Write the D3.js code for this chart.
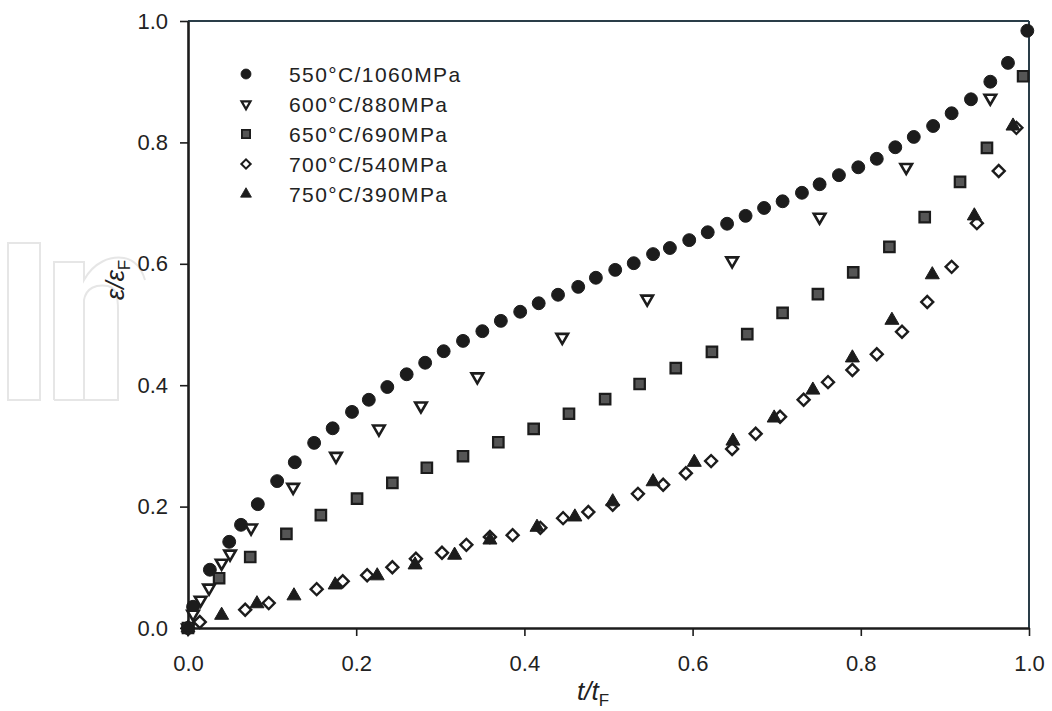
<!DOCTYPE html>
<html>
<head>
<meta charset="utf-8">
<script src="https://cdn.jsdelivr.net/npm/d3@7"></script>
<style>
  body { margin: 0; background: #ffffff; }
  svg text { font-family: "Liberation Sans", Arial, Helvetica, sans-serif; }
</style>
</head>
<body>
<svg id="chart" width="1052" height="711"></svg>
<script>
// Axis ticks (fraction of rupture time / fraction of rupture strain)
const tickValues = [0.0, 0.2, 0.4, 0.6, 0.8, 1.0];

// Test conditions (temperature / stress)
const conditions = ["550°C/1060MPa", "600°C/880MPa", "650°C/690MPa", "700°C/540MPa", "750°C/390MPa"];

// 550°C / 1060 MPa
const t550 = [0.000, 0.006, 0.026, 0.049, 0.063, 0.083, 0.106, 0.127, 0.150, 0.172, 0.195, 0.215, 0.237,
              0.260, 0.282, 0.304, 0.327, 0.350, 0.372, 0.395, 0.417, 0.440, 0.464, 0.485, 0.508, 0.530,
              0.553, 0.573, 0.596, 0.618, 0.641, 0.663, 0.685, 0.707, 0.730, 0.751, 0.774, 0.797, 0.819,
              0.841, 0.863, 0.886, 0.908, 0.931, 0.954, 0.975, 0.998];
const e550 = [0.000, 0.035, 0.096, 0.142, 0.170, 0.204, 0.242, 0.273, 0.305, 0.329, 0.356, 0.376, 0.397,
              0.418, 0.437, 0.456, 0.473, 0.489, 0.506, 0.521, 0.535, 0.549, 0.562, 0.577, 0.590, 0.601,
              0.616, 0.626, 0.639, 0.652, 0.666, 0.679, 0.692, 0.703, 0.717, 0.731, 0.746, 0.759, 0.773,
              0.792, 0.809, 0.827, 0.848, 0.871, 0.900, 0.931, 0.984];

// 600°C / 880 MPa
const t600 = [0.000, 0.006, 0.015, 0.025, 0.040, 0.050, 0.075, 0.125, 0.176, 0.227, 0.277, 0.344, 0.445,
              0.546, 0.647, 0.751, 0.854, 0.954];
const e600 = [0.000, 0.023, 0.046, 0.066, 0.107, 0.122, 0.165, 0.232, 0.283, 0.328, 0.366, 0.414, 0.479,
              0.542, 0.605, 0.677, 0.759, 0.873];

// 650°C / 690 MPa
const t650 = [0.000, 0.037, 0.074, 0.117, 0.158, 0.201, 0.243, 0.284, 0.327, 0.369, 0.411, 0.453, 0.496,
              0.537, 0.580, 0.623, 0.665, 0.707, 0.749, 0.791, 0.834, 0.876, 0.918, 0.950, 0.993];
const e650 = [0.000, 0.082, 0.117, 0.155, 0.186, 0.213, 0.239, 0.264, 0.283, 0.306, 0.328, 0.353, 0.377,
              0.402, 0.428, 0.455, 0.484, 0.519, 0.550, 0.586, 0.628, 0.677, 0.735, 0.791, 0.909];

// 700°C / 540 MPa
const t700 = [0.000, 0.014, 0.068, 0.096, 0.153, 0.184, 0.213, 0.243, 0.271, 0.302, 0.331, 0.359, 0.386,
              0.419, 0.446, 0.476, 0.505, 0.535, 0.565, 0.592, 0.622, 0.647, 0.675, 0.704, 0.732, 0.761,
              0.790, 0.819, 0.849, 0.879, 0.908, 0.938, 0.964, 0.985];
const e700 = [0.000, 0.010, 0.030, 0.041, 0.064, 0.077, 0.087, 0.100, 0.114, 0.124, 0.137, 0.150, 0.153,
              0.165, 0.181, 0.191, 0.203, 0.221, 0.236, 0.255, 0.275, 0.295, 0.320, 0.348, 0.376, 0.405,
              0.425, 0.451, 0.488, 0.537, 0.595, 0.667, 0.753, 0.824];

// 750°C / 390 MPa
const t750 = [0.000, 0.040, 0.082, 0.126, 0.175, 0.225, 0.270, 0.317, 0.359, 0.415, 0.460, 0.505, 0.553,
              0.602, 0.648, 0.697, 0.743, 0.790, 0.837, 0.885, 0.935, 0.981];
const e750 = [0.000, 0.021, 0.040, 0.053, 0.071, 0.086, 0.104, 0.120, 0.145, 0.166, 0.183, 0.208, 0.241,
              0.273, 0.308, 0.346, 0.392, 0.445, 0.507, 0.582, 0.679, 0.827];

const ink = "#1c1c1c";

// Marker styles per condition
const markerStyles = [
  { type: d3.symbolCircle,   size: 130, rotate: 0,   fill: ink,       stroke: ink, sw: 1 },
  { type: d3.symbolTriangle, size: 58,  rotate: 180, fill: "#ffffff", stroke: ink, sw: 2.6 },
  { type: d3.symbolSquare,   size: 110, rotate: 0,   fill: "#555555", stroke: ink, sw: 2.2 },
  { type: d3.symbolSquare,   size: 72,  rotate: 45,  fill: "#ffffff", stroke: ink, sw: 2.4 },
  { type: d3.symbolTriangle, size: 85,  rotate: 0,   fill: ink,       stroke: ink, sw: 1 }
];

const series = [
  { t: t550, e: e550 },
  { t: t600, e: e600 },
  { t: t650, e: e650 },
  { t: t700, e: e700 },
  { t: t750, e: e750 }
];

const svg = d3.select("#chart");

// Faint background emblem at the left edge
const emblem = svg.append("g")
  .attr("fill", "none")
  .attr("stroke", "#e6e6e6")
  .attr("stroke-width", 2);
emblem.append("rect").attr("x", 8).attr("y", 243).attr("width", 32).attr("height", 157);
emblem.append("path")
  .attr("d", "M54,400 V262 H84 V280 C94,262 110,256 124,258 C136,260 142,270 145,280 M84,400 V300 C86,288 96,284 108,286 C116,288 118,296 118,310 V400 Z M54,400 H84");

const x = d3.scaleLinear().domain([0, 1]).range([188, 1029]);
const y = d3.scaleLinear().domain([0, 1]).range([628, 21]);

// Frame: top and right edges
svg.append("line")
  .attr("x1", x(0)).attr("x2", x(1)).attr("y1", y(1)).attr("y2", y(1))
  .attr("stroke", "#2a3d48").attr("stroke-width", 2);
svg.append("line")
  .attr("x1", x(1)).attr("x2", x(1)).attr("y1", y(1)).attr("y2", y(0))
  .attr("stroke", "#2a3d48").attr("stroke-width", 2);

const fmt = d3.format(".1f");

const xAxis = svg.append("g")
  .attr("transform", `translate(0,${y(0)})`)
  .call(d3.axisBottom(x).tickValues(tickValues).tickFormat(fmt).tickSize(8).tickSizeOuter(0).tickPadding(19));
const yAxis = svg.append("g")
  .attr("transform", `translate(${x(0)},0)`)
  .call(d3.axisLeft(y).tickValues(tickValues).tickFormat(fmt).tickSize(8).tickSizeOuter(0).tickPadding(12));

[xAxis, yAxis].forEach(g => {
  g.select(".domain").attr("stroke", ink).attr("stroke-width", 2.6);
  g.selectAll(".tick line").attr("stroke", ink).attr("stroke-width", 1.6);
  g.selectAll(".tick text")
    .attr("fill", "#222")
    .style("font-size", "22px")
    .style("font-family", "'Liberation Sans', Arial, sans-serif");
});

// Axis titles
const xTitle = svg.append("text")
  .attr("x", 593).attr("y", 700)
  .attr("text-anchor", "middle")
  .attr("fill", "#222")
  .style("font-size", "26px")
  .style("font-style", "italic");
xTitle.append("tspan").text("t/t");
xTitle.append("tspan").attr("dy", 6).style("font-size", "17px").style("font-style", "normal").text("F");

const yTitle = svg.append("text")
  .attr("transform", "translate(124,280) rotate(-90)")
  .attr("text-anchor", "middle")
  .attr("fill", "#222")
  .style("font-size", "26px")
  .style("font-style", "italic");
yTitle.append("tspan").text("ε/ε");
yTitle.append("tspan").attr("dy", 6).style("font-size", "17px").style("font-style", "normal").text("F");

// Data markers
const plot = svg.append("g");
series.forEach((s, i) => {
  const st = markerStyles[i];
  const sym = d3.symbol().type(st.type).size(st.size);
  const pts = s.t.map((tv, k) => ({ t: tv, e: s.e[k] }));
  plot.append("g").selectAll("path")
    .data(pts)
    .join("path")
    .attr("d", sym)
    .attr("transform", d => `translate(${x(d.t)},${y(d.e)}) rotate(${st.rotate})`)
    .attr("fill", st.fill)
    .attr("stroke", st.stroke)
    .attr("stroke-width", st.sw);
});

// Legend
const legend = svg.append("g");
conditions.forEach((name, i) => {
  const st = markerStyles[i];
  const cy = 74 + i * 30;
  legend.append("path")
    .attr("d", d3.symbol().type(st.type).size(st.size * 0.6)())
    .attr("transform", `translate(246,${cy}) rotate(${st.rotate})`)
    .attr("fill", st.fill)
    .attr("stroke", st.stroke)
    .attr("stroke-width", st.sw * 0.85);
  legend.append("text")
    .attr("x", 289).attr("y", cy + 7.5)
    .attr("fill", "#222")
    .style("font-size", "21px")
    .style("letter-spacing", "1.4px")
    .text(name);
});
</script>
</body>
</html>
